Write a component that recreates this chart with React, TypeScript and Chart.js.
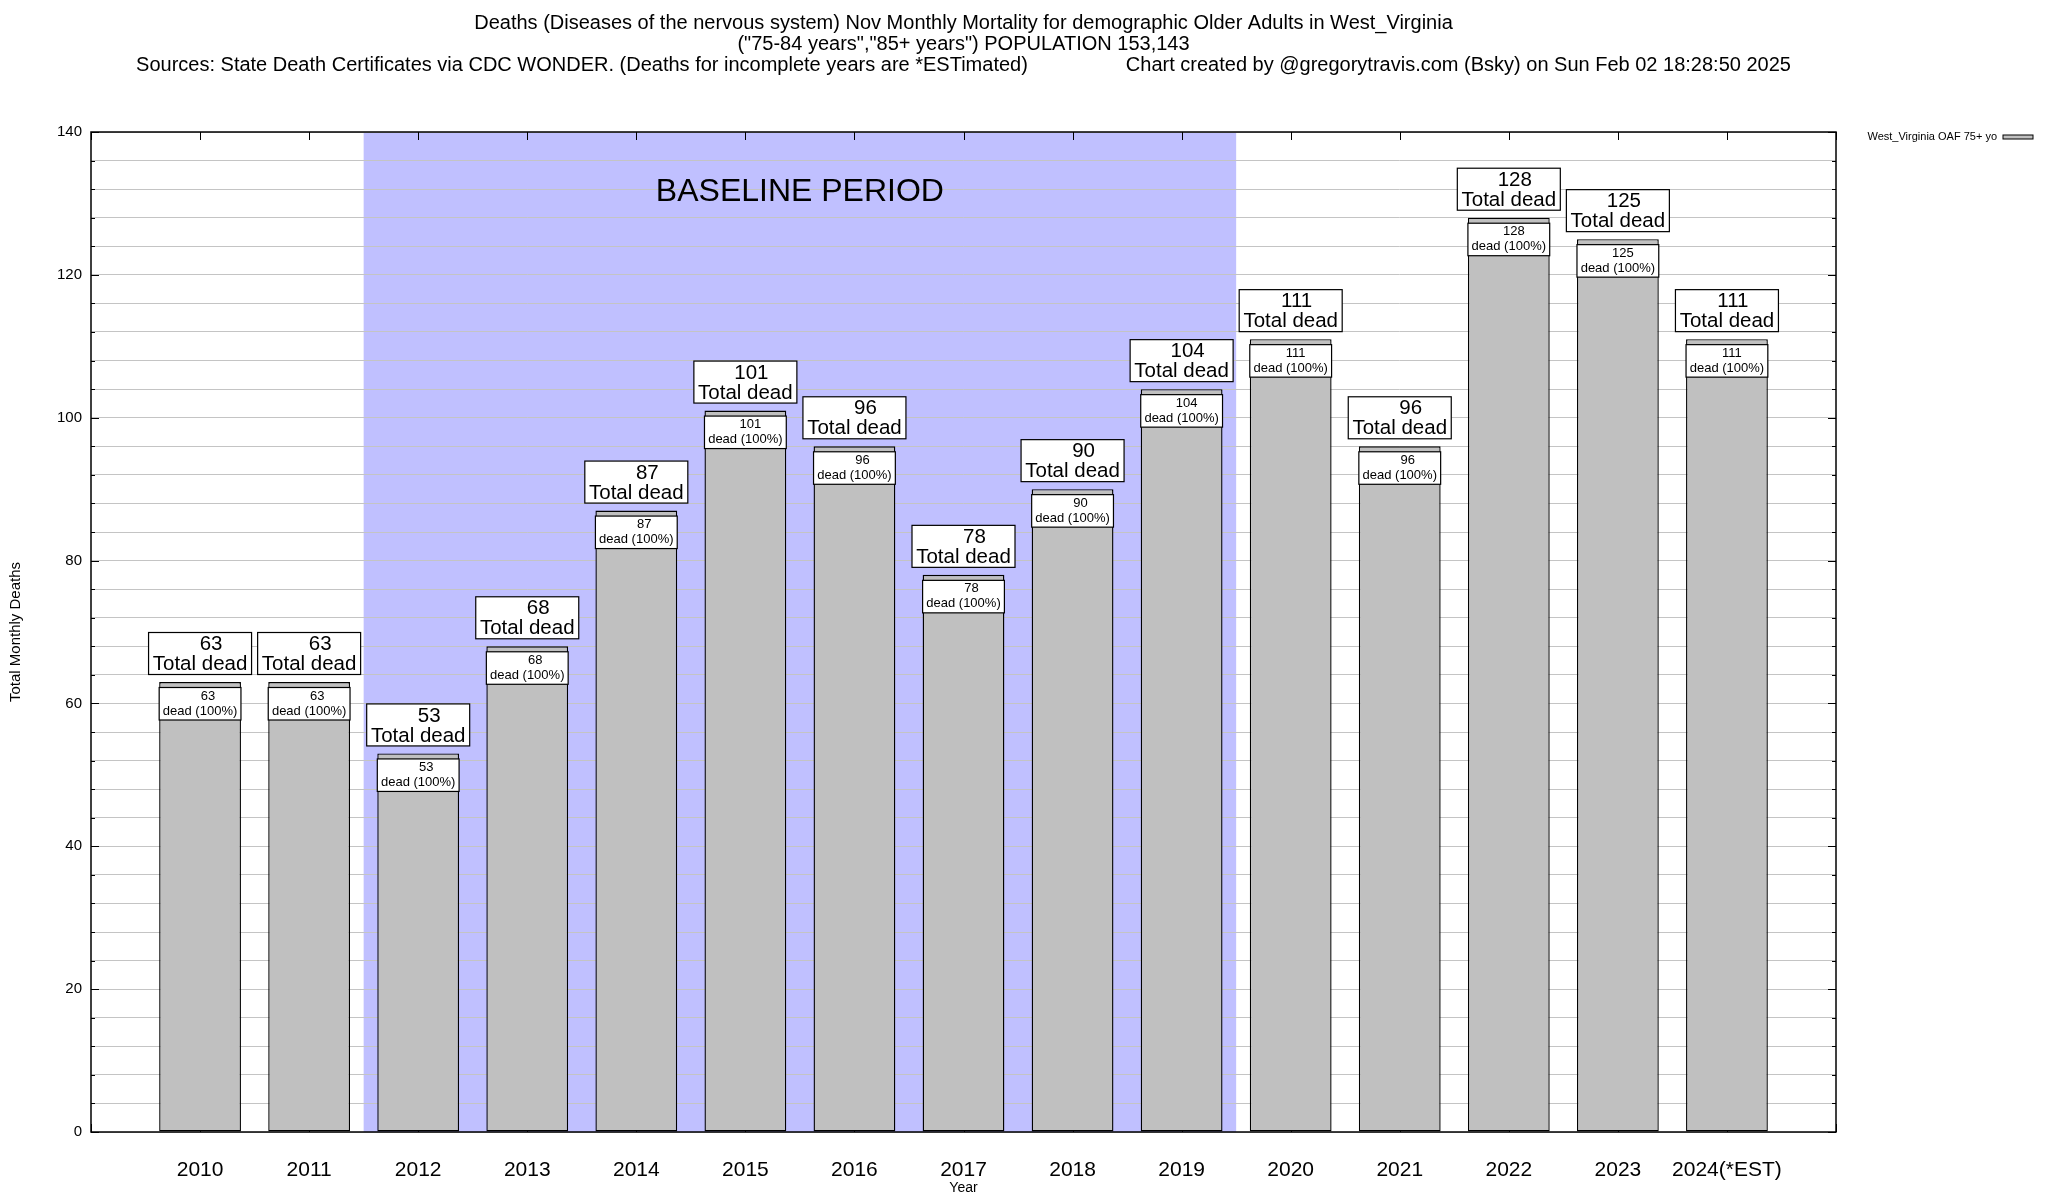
import { useEffect, useRef } from 'react';
import { Chart, registerables } from 'chart.js';
import type { Plugin } from 'chart.js';

Chart.register(...registerables);

const FONT = '"Liberation Sans", Arial, Helvetica, sans-serif';

// data
const years = ['2010', '2011', '2012', '2013', '2014', '2015', '2016', '2017', '2018', '2019', '2020', '2021', '2022', '2023', '2024(*EST)'];
const deaths = [63, 63, 53, 68, 87, 101, 96, 78, 90, 104, 111, 96, 128, 125, 111];
const yTickLabels = [0, 20, 40, 60, 80, 100, 120, 140];

const titleLines = [
  'Deaths (Diseases of the nervous system) Nov Monthly Mortality for demographic Older Adults in West_Virginia',
  '("75-84 years","85+ years") POPULATION 153,143',
];
const sourceLine = 'Sources: State Death Certificates via CDC WONDER. (Deaths for incomplete years are *ESTimated)';
const creditLine = 'Chart created by @gregorytravis.com (Bsky) on Sun Feb 02 18:28:50 2025';
const seriesName = 'West_Virginia OAF 75+ yo';
const baselineFirst = '2012';
const baselineLast = '2019';
const baselineText = 'BASELINE PERIOD';

const decor: Plugin<'bar'> = {
  id: 'decor',
  beforeDraw(chart) {
    const { ctx, chartArea, scales } = chart;
    const x = scales.x;
    const x0 = x.getPixelForValue(years.indexOf(baselineFirst) - 0.5);
    const x1 = x.getPixelForValue(years.indexOf(baselineLast) + 0.5);
    ctx.save();
    ctx.fillStyle = 'rgb(192,192,255)';
    ctx.fillRect(x0, chartArea.top, x1 - x0, chartArea.bottom - chartArea.top);
    ctx.restore();
  },
  beforeDatasetsDraw(chart) {
    const { ctx, chartArea, scales } = chart;
    const { x, y } = scales;
    ctx.save();
    ctx.strokeStyle = '#000';
    ctx.lineWidth = 1;
    ctx.beginPath();
    y.ticks.forEach((t) => {
      const py = Math.round(y.getPixelForValue(t.value)) + 0.5;
      const len = yTickLabels.includes(t.value) ? 8 : 4;
      ctx.moveTo(chartArea.left, py);
      ctx.lineTo(chartArea.left + len, py);
      ctx.moveTo(chartArea.right, py);
      ctx.lineTo(chartArea.right - len, py);
    });
    x.ticks.forEach((t) => {
      const px = Math.round(x.getPixelForValue(t.value)) + 0.5;
      ctx.moveTo(px, chartArea.top);
      ctx.lineTo(px, chartArea.top + 8);
      ctx.moveTo(px, chartArea.bottom);
      ctx.lineTo(px, chartArea.bottom - 8);
    });
    ctx.stroke();
    ctx.restore();
  },
  afterDatasetsDraw(chart) {
    const { ctx, chartArea, scales } = chart;
    const { x, y } = scales;
    ctx.save();

    // baseline caption
    const bx = (x.getPixelForValue(years.indexOf(baselineFirst) - 0.5) + x.getPixelForValue(years.indexOf(baselineLast) + 0.5)) / 2;
    ctx.fillStyle = '#000';
    ctx.font = `32px ${FONT}`;
    ctx.textAlign = 'center';
    ctx.textBaseline = 'middle';
    ctx.fillText(baselineText, bx, y.getPixelForValue(131.6));

    // value labels
    const meta = chart.getDatasetMeta(0);
    meta.data.forEach((bar, i) => {
      const { x: cx, y: top, width } = bar.getProps(['x', 'y', 'width'], true) as any;
      const v = deaths[i];
      const short = String(v).length < 3;
      ctx.lineWidth = 1.2;
      ctx.strokeStyle = '#000';

      const ix = cx - width / 2;
      const iy = top + 5.5;
      ctx.fillStyle = '#fff';
      ctx.fillRect(ix, iy, width, 32.5);
      ctx.strokeRect(ix, iy, width, 32.5);
      ctx.fillStyle = '#000';
      ctx.font = `13px ${FONT}`;
      ctx.fillText(String(v), cx + (short ? 8 : 5), iy + 8.5);
      ctx.fillText('dead (100%)', cx, iy + 23.5);

      const ow = 103;
      const oh = 42;
      const oy = top - 7.5 - oh;
      ctx.fillStyle = '#fff';
      ctx.fillRect(cx - ow / 2, oy, ow, oh);
      ctx.strokeRect(cx - ow / 2, oy, ow, oh);
      ctx.fillStyle = '#000';
      ctx.font = `20.5px ${FONT}`;
      ctx.fillText(String(v), cx + (short ? 11 : 6), oy + 12);
      ctx.fillText('Total dead', cx, oy + 32);
    });

    // frame
    ctx.lineWidth = 1.5;
    ctx.strokeStyle = '#000';
    ctx.strokeRect(chartArea.left, chartArea.top, chartArea.right - chartArea.left, chartArea.bottom - chartArea.top);

    // titles
    const mid = (chartArea.left + chartArea.right) / 2;
    ctx.font = `20px ${FONT}`;
    ctx.textAlign = 'center';
    titleLines.forEach((line, k) => ctx.fillText(line, mid, 23.5 + k * 21));
    const gap = 98;
    const wl = ctx.measureText(sourceLine).width;
    const wr = ctx.measureText(creditLine).width;
    const start = mid - (wl + gap + wr) / 2;
    ctx.textAlign = 'left';
    ctx.fillText(sourceLine, start, 65.5);
    ctx.fillText(creditLine, start + wl + gap, 65.5);

    // legend
    ctx.font = `11px ${FONT}`;
    ctx.textAlign = 'right';
    ctx.fillText(seriesName, 1997, 137);
    ctx.fillStyle = '#c0c0c0';
    ctx.fillRect(2003, 135, 30, 4);
    ctx.lineWidth = 1;
    ctx.strokeRect(2003, 135, 30, 4);

    ctx.restore();
  },
};

export default function App() {
  const canvasRef = useRef<HTMLCanvasElement>(null);
  const chartRef = useRef<Chart<'bar'> | null>(null);

  useEffect(() => {
    if (!canvasRef.current) return;
    if (chartRef.current) chartRef.current.destroy();

    chartRef.current = new Chart(canvasRef.current, {
      type: 'bar',
      data: {
        datasets: [
          {
            label: seriesName,
            data: deaths.map((v, i) => ({ x: i, y: v })),
            backgroundColor: '#c0c0c0',
            borderColor: '#000',
            borderWidth: 1.4,
            borderSkipped: false,
            categoryPercentage: 1,
            barPercentage: 0.75,
          },
        ],
      },
      options: {
        responsive: true,
        maintainAspectRatio: false,
        animation: false,
        layout: { padding: { top: 132, right: 212, left: 0, bottom: 0 } },
        plugins: {
          legend: { display: false },
          tooltip: { enabled: false },
        },
        scales: {
          x: {
            type: 'linear',
            offset: false,
            min: -1,
            max: years.length,
            grid: { display: false, offset: false },
            border: { display: false },
            ticks: {
              stepSize: 1,
              autoSkip: false,
              maxRotation: 0,
              padding: 18,
              color: '#000',
              font: { family: FONT, size: 21 },
              callback: (v) => years[v as number] ?? '',
            },
            title: {
              display: true,
              text: 'Year',
              color: '#000',
              font: { family: FONT, size: 14 },
              padding: { top: 0, bottom: 3.6 },
            },
            afterFit: (s) => { s.height = 68; },
          },
          y: {
            min: 0,
            max: 140,
            grid: { color: '#c4c4c4', lineWidth: 1, drawTicks: false },
            border: { display: false },
            ticks: {
              stepSize: 4,
              autoSkip: false,
              padding: 9,
              color: '#000',
              font: { family: FONT, size: 15 },
              callback: (v) => (yTickLabels.includes(v as number) ? String(v) : ''),
            },
            title: {
              display: true,
              text: 'Total Monthly Deaths',
              color: '#000',
              font: { family: FONT, size: 15 },
              padding: { top: 7, bottom: 0 },
            },
            afterFit: (s) => { s.width = 91; },
          },
        },
      },
      plugins: [decor],
    });

    return () => {
      if (chartRef.current) {
        chartRef.current.destroy();
        chartRef.current = null;
      }
    };
  }, []);

  return (
    <div style={{ position: 'absolute', left: 0, top: 0, width: 2048, height: 1200, background: '#fff' }}>
      <canvas ref={canvasRef}></canvas>
    </div>
  );
}
